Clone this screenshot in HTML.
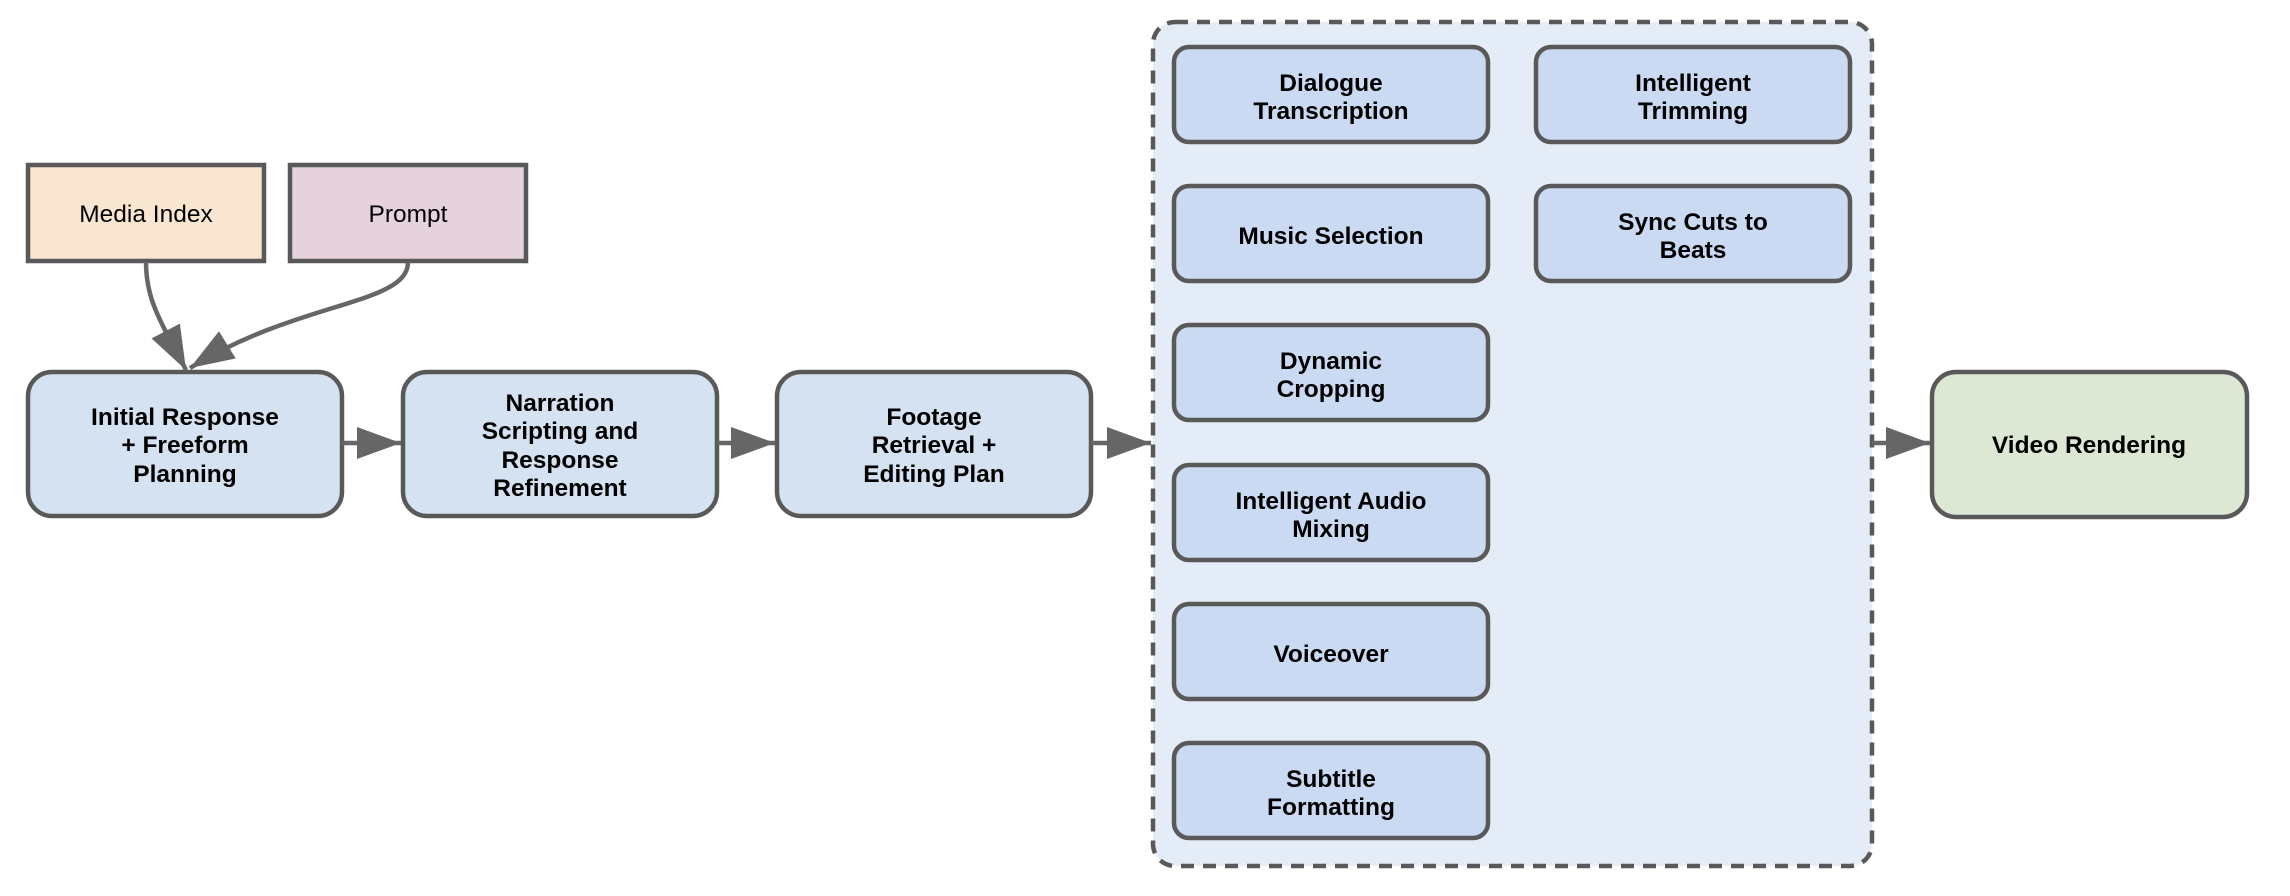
<!DOCTYPE html>
<html><head><meta charset="utf-8"><style>
html,body{margin:0;padding:0;background:#fff;}
svg{display:block;}
text{font-family:"Liberation Sans",Arial,sans-serif;font-size:24.5px;fill:#000;text-anchor:middle;}
.b{font-weight:bold;}
</style></head><body>
<svg width="2290" height="896" viewBox="0 0 2290 896" xmlns="http://www.w3.org/2000/svg">
<defs>
<marker id="ah" markerUnits="userSpaceOnUse" markerWidth="46" markerHeight="34" refX="44" refY="16" orient="auto">
<path d="M0,0 L44,16 L0,32 Z" fill="#666"/>
</marker>
</defs>
<g stroke="#595959" stroke-width="4.5">
<rect x="28" y="165" width="236" height="96" fill="#f9e6d1"/>
<rect x="290" y="165" width="236" height="96" fill="#e6d2dc"/>
<rect x="28" y="372" width="314" height="144" rx="24" fill="#d5e2f1"/>
<rect x="403" y="372" width="314" height="144" rx="24" fill="#d5e2f1"/>
<rect x="777" y="372" width="314" height="144" rx="24" fill="#d5e2f1"/>
<rect x="1153" y="22" width="719" height="844" rx="22" fill="#e3ecf7" stroke-dasharray="13,9"/>
<rect x="1932" y="372" width="315" height="145" rx="24" fill="#dde8d4"/>
</g>
<g stroke="#595959" stroke-width="4.5" fill="#cbdaf3">
<rect x="1174" y="47" width="314" height="95" rx="15"/>
<rect x="1536" y="47" width="314" height="95" rx="15"/>
<rect x="1174" y="186" width="314" height="95" rx="15"/>
<rect x="1536" y="186" width="314" height="95" rx="15"/>
<rect x="1174" y="325" width="314" height="95" rx="15"/>
<rect x="1174" y="465" width="314" height="95" rx="15"/>
<rect x="1174" y="604" width="314" height="95" rx="15"/>
<rect x="1174" y="743" width="314" height="95" rx="15"/>
</g>
<g stroke="#666" stroke-width="4.5" fill="none">
<path d="M146,262 C146,300 160,320 186,370" marker-end="url(#ah)"/>
<path d="M408,262 C408,305 300,300 190,368" marker-end="url(#ah)"/>
<path d="M342,443 L401,443" marker-end="url(#ah)"/>
<path d="M717,443 L775,443" marker-end="url(#ah)"/>
<path d="M1091,443 L1151,443" marker-end="url(#ah)"/>
<path d="M1872,443 L1930,443" marker-end="url(#ah)"/>
</g>
<text x="146" y="222">Media Index</text>
<text x="408" y="222">Prompt</text>
<g class="b">
<text class="b" x="185" y="425">Initial Response</text>
<text class="b" x="185" y="453">+ Freeform</text>
<text class="b" x="185" y="482">Planning</text>
<text class="b" x="560" y="411">Narration</text>
<text class="b" x="560" y="439">Scripting and</text>
<text class="b" x="560" y="468">Response</text>
<text class="b" x="560" y="496">Refinement</text>
<text class="b" x="934" y="425">Footage</text>
<text class="b" x="934" y="453">Retrieval +</text>
<text class="b" x="934" y="482">Editing Plan</text>
<text class="b" x="1331" y="91">Dialogue</text>
<text class="b" x="1331" y="119">Transcription</text>
<text class="b" x="1693" y="91">Intelligent</text>
<text class="b" x="1693" y="119">Trimming</text>
<text class="b" x="1331" y="244">Music Selection</text>
<text class="b" x="1693" y="230">Sync Cuts to</text>
<text class="b" x="1693" y="258">Beats</text>
<text class="b" x="1331" y="369">Dynamic</text>
<text class="b" x="1331" y="397">Cropping</text>
<text class="b" x="1331" y="509">Intelligent Audio</text>
<text class="b" x="1331" y="537">Mixing</text>
<text class="b" x="1331" y="662">Voiceover</text>
<text class="b" x="1331" y="787">Subtitle</text>
<text class="b" x="1331" y="815">Formatting</text>
<text class="b" x="2089" y="453">Video Rendering</text>
</g>
</svg>
</body></html>
